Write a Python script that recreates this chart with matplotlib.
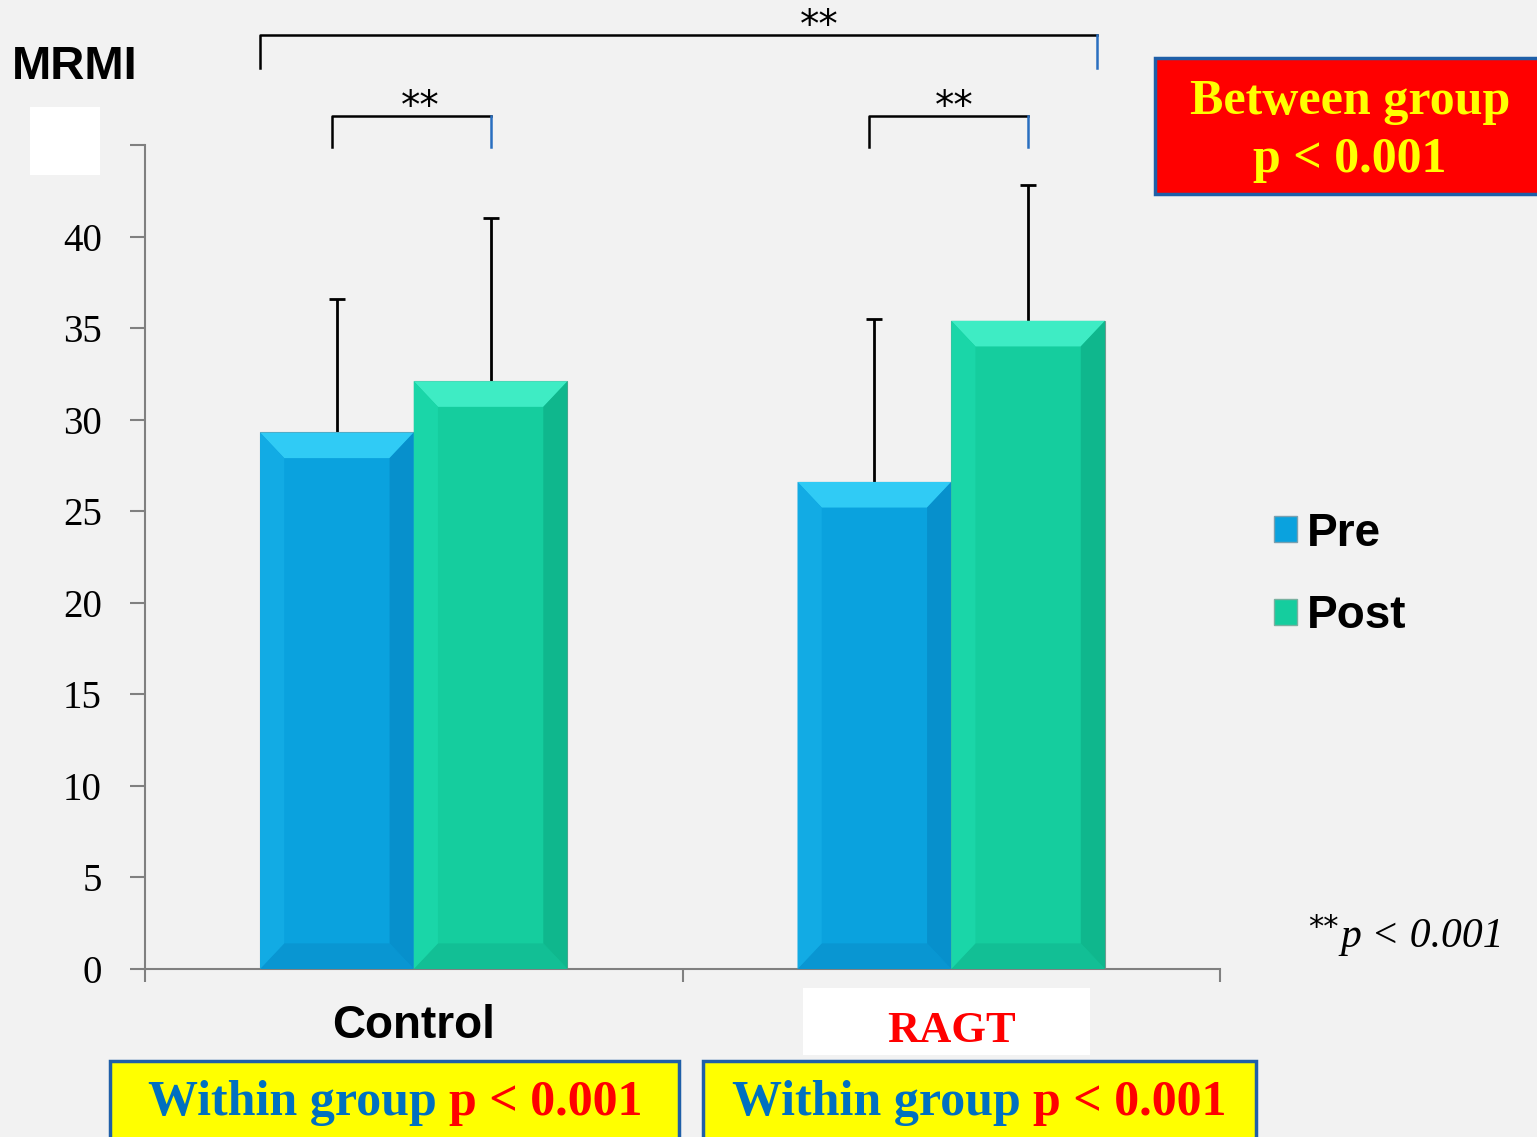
import matplotlib
matplotlib.use("Agg")
import matplotlib.pyplot as plt
from matplotlib.patches import Polygon, Rectangle, Patch

# data
groups = ["Control", "RAGT"]
pre_mean = [29.3, 26.6]
pre_sd = [7.3, 8.9]
post_mean = [32.1, 35.4]
post_sd = [8.9, 7.4]
y_ticks = [0, 5, 10, 15, 20, 25, 30, 35, 40, 45]
y_labels = ["0", "5", "10", "15", "20", "25", "30", "35", "40", ""]

W, H = 1537, 1137
fx = lambda px: px / W
fy = lambda py: 1 - py / H

serif = "Liberation Serif"
sans = "Liberation Sans"

fig = plt.figure(figsize=(W / 100, H / 100), dpi=100, facecolor="#f2f2f2")
ax = fig.add_axes([fx(145), fy(969), fx(1220) - fx(145), fy(145) - fy(969)])
ax.set_facecolor("none")
ax.set_zorder(2)

width = 0.286
off = 0.143
x = list(range(len(groups)))

pre_cols = dict(face="#0aa2de", top="#30cbf5", left="#12abe4", right="#0790cc", bottom="#0996d2")
post_cols = dict(face="#15cd9e", top="#3eecc4", left="#1ad6a8", right="#0fb78d", bottom="#12bf95")


def bevel(ax, xc, h, cols, bx=0.045, by=1.4):
    x0, x1 = xc - width / 2, xc + width / 2
    polys = {
        "top": [(x0, h), (x1, h), (x1 - bx, h - by), (x0 + bx, h - by)],
        "bottom": [(x0, 0), (x1, 0), (x1 - bx, by), (x0 + bx, by)],
        "left": [(x0, 0), (x0, h), (x0 + bx, h - by), (x0 + bx, by)],
        "right": [(x1, 0), (x1, h), (x1 - bx, h - by), (x1 - bx, by)],
    }
    for k, pts in polys.items():
        ax.add_patch(Polygon(pts, closed=True, facecolor=cols[k], edgecolor="none", zorder=3))


def upper_err(xc, m, s):
    ax.vlines(xc, m, m + s, color="black", lw=2, zorder=1)
    ax.plot([xc], [m + s], marker="_", ms=12, mew=2, color="black", zorder=1)


for xi, m, s in zip(x, pre_mean, pre_sd):
    ax.bar(xi - off, m, width, color=pre_cols["face"], edgecolor="#6f8f9c", linewidth=0.8, zorder=2)
    bevel(ax, xi - off, m, pre_cols)
    upper_err(xi - off, m, s)
for xi, m, s in zip(x, post_mean, post_sd):
    ax.bar(xi + off, m, width, color=post_cols["face"], edgecolor="#6f9c90", linewidth=0.8, zorder=2)
    bevel(ax, xi + off, m, post_cols)
    upper_err(xi + off, m, s)

ax.set_xlim(-0.5, 1.5)
ax.set_ylim(0, 45)
ax.set_yticks(y_ticks)
ax.set_yticklabels(y_labels, fontsize=28, fontfamily=serif)
ax.set_xticks([-0.5, 0.5, 1.5])
ax.set_xticklabels([])
ax.tick_params(axis="y", length=11, width=1.5, color="#808080", pad=20)
ax.tick_params(axis="x", length=9, width=1.5, color="#808080")
for side in ["top", "right"]:
    ax.spines[side].set_visible(False)
for side in ["left", "bottom"]:
    ax.spines[side].set_color("#808080")
    ax.spines[side].set_linewidth(1.5)

# significance brackets
def bracket(x0, x1, ylo, yhi, star_x, star_y):
    ax.plot([x0, x0, x1], [ylo, yhi, yhi], color="black", lw=1.8, clip_on=False)
    ax.plot([x1, x1], [yhi, ylo], color="#2a6fc0", lw=1.8, clip_on=False)
    ax.text(star_x, star_y, "**", ha="center", va="center", fontsize=28,
            fontfamily="DejaVu Sans", clip_on=False)

bracket(0 - off - 0.01, 0 + off, 44.9, 46.6, 0.012, 47.1)
bracket(1 - off - 0.01, 1 + off, 44.9, 46.6, 1.006, 47.1)
bracket(0 - off - width / 2, 1 + off + width / 2 - 0.015, 49.2, 51.0, 0.755, 51.5)

# white patches and group labels
fig.add_artist(Rectangle((fx(803), fy(1055)), fx(1090) - fx(803), fy(988) - fy(1055),
                         transform=fig.transFigure, facecolor="white", edgecolor="none", zorder=0))
fig.add_artist(Rectangle((fx(30), fy(175)), fx(100) - fx(30), fy(107) - fy(175),
                         transform=fig.transFigure, facecolor="white", edgecolor="none", zorder=0))
xt = ax.get_xaxis_transform()
ax.text(x[0], -0.069, groups[0], transform=xt, ha="center", va="center", fontsize=33,
        fontweight="bold", fontfamily=sans)
ax.text(x[1], -0.075, groups[1], transform=xt, ha="center", va="center", fontsize=32,
        fontweight="bold", fontfamily=serif, color="#ff0000")

fig.text(fx(12), fy(67), "MRMI", ha="left", va="center", fontsize=34, fontweight="bold",
         fontfamily=sans)

# legend
handles = [Patch(facecolor=pre_cols["face"], edgecolor="#7aa0b0"),
           Patch(facecolor=post_cols["face"], edgecolor="#7ab0a0")]
fig.legend(handles, ["Pre", "Post"], loc="center left", bbox_to_anchor=(fx(1274), fy(575)),
           frameon=False, prop=dict(family=sans, weight="bold", size=33),
           handlelength=0.5, handleheight=0.5, handletextpad=0.22, labelspacing=0.85,
           borderpad=0, borderaxespad=0)

# red "between group" box
fig.add_artist(Rectangle((fx(1155), fy(194)), fx(1545) - fx(1155), fy(58) - fy(194),
                         transform=fig.transFigure, facecolor="#ff0000",
                         edgecolor="#1f5fa8", linewidth=2.5, zorder=3))
fig.text(fx(1350), fy(102), "Between group", ha="center", va="center", fontsize=36,
         fontweight="bold", fontfamily=serif, color="#ffff00", zorder=4)
fig.text(fx(1350), fy(160), "p < 0.001", ha="center", va="center", fontsize=36,
         fontweight="bold", fontfamily=serif, color="#ffff00", zorder=4)

# yellow "within group" boxes
renderer = fig.canvas.get_renderer()
for bx0, bx1, cx in [(110, 679, 395), (703, 1256, 979)]:
    fig.add_artist(Rectangle((fx(bx0), fy(1150)), fx(bx1) - fx(bx0), fy(1061) - fy(1150),
                             transform=fig.transFigure, facecolor="#ffff00",
                             edgecolor="#1f5fa8", linewidth=2.5, zorder=3))
    t1 = fig.text(0, fy(1103), "Within group ", ha="left", va="center", fontsize=36,
                  fontweight="bold", fontfamily=serif, color="#0070c0", zorder=4)
    t2 = fig.text(0, fy(1103), "p < 0.001", ha="left", va="center", fontsize=36,
                  fontweight="bold", fontfamily=serif, color="#ff0000", zorder=4)
    w1 = t1.get_window_extent(renderer).width
    w2 = t2.get_window_extent(renderer).width
    start = cx - (w1 + w2) / 2
    t1.set_x(fx(start))
    t2.set_x(fx(start + w1))

fig.text(fx(1308), fy(928), "**", ha="left", va="center", fontsize=22, fontfamily="DejaVu Sans")
fig.text(fx(1340), fy(937), "p < 0.001", ha="left", va="center", fontsize=30,
         fontstyle="italic", fontfamily=serif)

fig.savefig("out.png", dpi=100, facecolor=fig.get_facecolor())
